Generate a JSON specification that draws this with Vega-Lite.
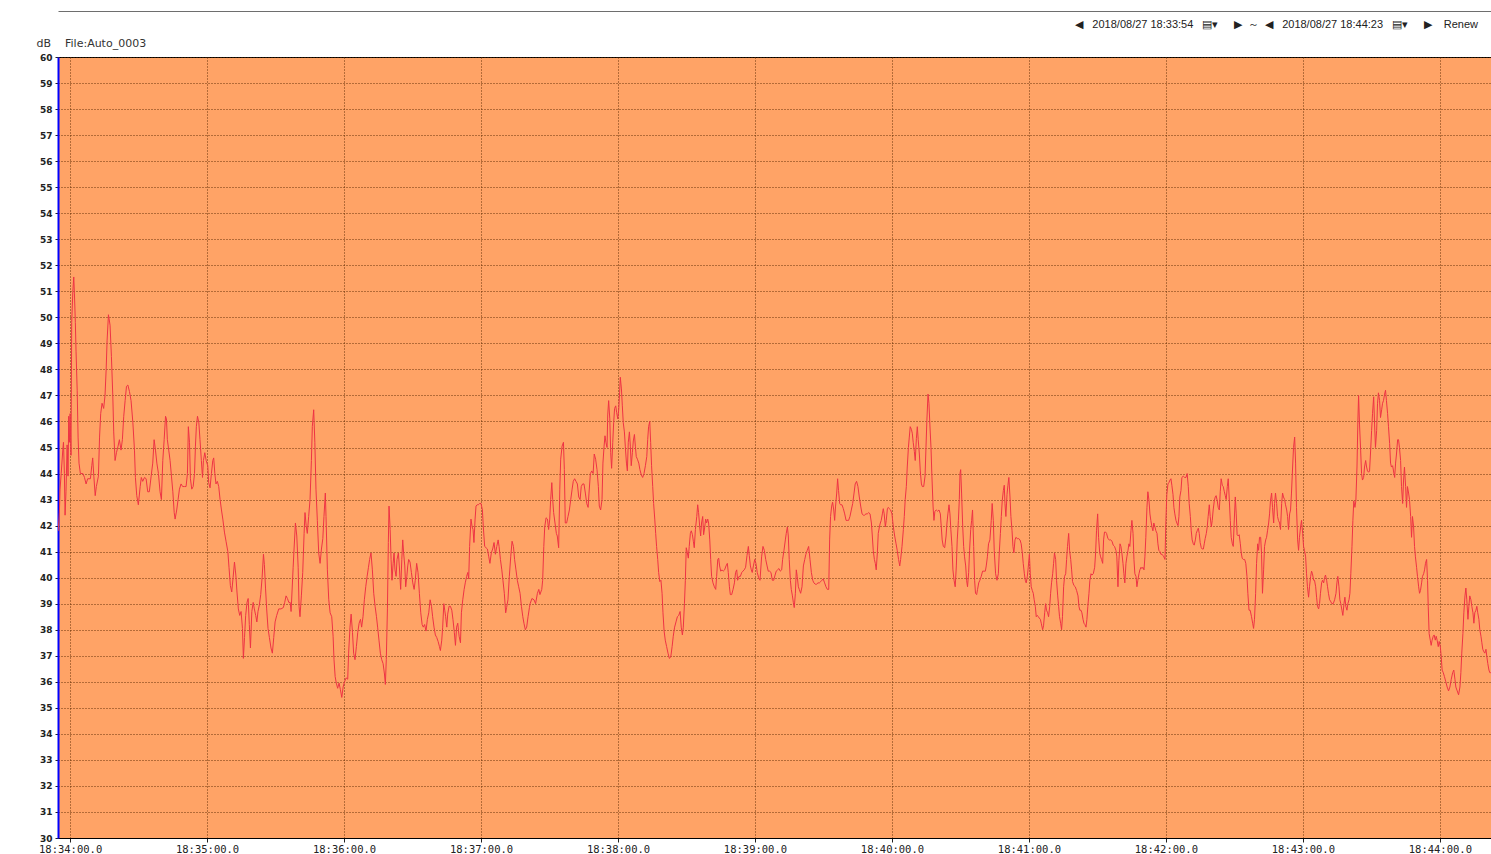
{
"$schema":"https://vega.github.io/schema/vega-lite/v6.json",
"width":1433,"height":781,
"autosize":{"type":"none"},
"padding":{"left":58,"top":57,"right":0,"bottom":16},
"background":"white",
"title":{"text":"◀\u00a0\u00a0\u00a02018/08/27 18:33:54\u00a0\u00a0\u00a0▤▾\u00a0\u00a0\u00a0\u00a0\u00a0▶\u00a0\u00a0～\u00a0\u00a0◀\u00a0\u00a0\u00a02018/08/27 18:44:23\u00a0\u00a0\u00a0▤▾\u00a0\u00a0\u00a0\u00a0\u00a0▶\u00a0\u00a0\u00a0\u00a0Renew","anchor":"end","frame":"group","orient":"top","offset":0,"dx":-13,"dy":19,"font":"Liberation Sans","fontSize":11,"fontWeight":"normal","color":"#222"},
"config":{"view":{"fill":"#FFA366","stroke":"#000000","strokeWidth":1}},
"data":{"values":[
{"t":-5.2,"db":41.8},{"t":-4.7,"db":42.5},{"t":-4.4,"db":43.4},{"t":-3.9,"db":44.0},{"t":-3.2,"db":44.9},{"t":-2.9,"db":45.2},{"t":-2.5,"db":44.0},{"t":-2.2,"db":42.4},{"t":-1.8,"db":43.3},{"t":-1.3,"db":45.1},{"t":-0.9,"db":43.9},{"t":-0.6,"db":46.2},{"t":-0.3,"db":45.2},{"t":0,"db":46.3},{"t":0.4,"db":44.7},{"t":0.7,"db":49.8},{"t":1.2,"db":51.0},{"t":1.6,"db":51.55},{"t":1.9,"db":50.9},{"t":2.3,"db":49.8},{"t":2.6,"db":48.7},{"t":3.1,"db":47.2},{"t":3.5,"db":45.4},{"t":3.9,"db":44.4},{"t":4.5,"db":44.0},{"t":5.6,"db":44.0},{"t":6.3,"db":43.85},{"t":7.0,"db":43.6},{"t":7.7,"db":43.8},{"t":8.9,"db":43.8},{"t":9.5,"db":44.3},{"t":9.9,"db":44.6},{"t":10.4,"db":43.9},{"t":11.0,"db":43.15},{"t":11.5,"db":43.5},{"t":12.4,"db":43.9},{"t":12.9,"db":45.4},{"t":13.4,"db":46.3},{"t":14.0,"db":46.7},{"t":14.7,"db":46.5},{"t":15.3,"db":47.0},{"t":15.8,"db":48.0},{"t":16.2,"db":49.1},{"t":16.8,"db":50.1},{"t":17.5,"db":49.7},{"t":18.1,"db":48.5},{"t":18.7,"db":47.0},{"t":19.1,"db":45.6},{"t":19.7,"db":44.5},{"t":20.3,"db":44.8},{"t":21.0,"db":45.05},{"t":21.6,"db":45.3},{"t":22.3,"db":44.9},{"t":22.9,"db":45.3},{"t":23.5,"db":46.2},{"t":24.1,"db":46.8},{"t":24.7,"db":47.35},{"t":25.3,"db":47.4},{"t":26.0,"db":47.15},{"t":26.7,"db":46.8},{"t":27.5,"db":45.95},{"t":28.2,"db":44.9},{"t":28.6,"db":43.85},{"t":29.2,"db":43.15},{"t":29.9,"db":42.8},{"t":30.7,"db":43.5},{"t":31.2,"db":43.85},{"t":31.8,"db":43.7},{"t":32.6,"db":43.85},{"t":33.3,"db":43.8},{"t":34.0,"db":43.3},{"t":34.7,"db":43.3},{"t":35.5,"db":43.9},{"t":36.2,"db":44.4},{"t":36.8,"db":45.3},{"t":37.4,"db":44.9},{"t":38.0,"db":44.4},{"t":38.7,"db":44.0},{"t":39.4,"db":43.3},{"t":40.0,"db":43.0},{"t":40.6,"db":44.5},{"t":41.2,"db":45.3},{"t":41.8,"db":46.2},{"t":42.2,"db":46.1},{"t":42.6,"db":45.3},{"t":43.2,"db":44.9},{"t":43.8,"db":44.5},{"t":44.4,"db":43.9},{"t":45.0,"db":43.3},{"t":45.6,"db":42.5},{"t":46.0,"db":42.25},{"t":46.7,"db":42.6},{"t":47.3,"db":43.0},{"t":47.9,"db":43.4},{"t":48.6,"db":43.6},{"t":49.3,"db":43.5},{"t":50.1,"db":43.5},{"t":50.8,"db":43.5},{"t":51.4,"db":44.0},{"t":51.8,"db":45.8},{"t":52.3,"db":45.2},{"t":52.7,"db":43.8},{"t":53.3,"db":43.4},{"t":53.9,"db":43.5},{"t":54.5,"db":44.0},{"t":54.9,"db":45.05},{"t":55.3,"db":45.8},{"t":55.8,"db":46.2},{"t":56.4,"db":45.95},{"t":56.9,"db":45.3},{"t":57.5,"db":44.5},{"t":58.0,"db":43.85},{"t":58.4,"db":44.5},{"t":59.0,"db":44.8},{"t":59.6,"db":44.5},{"t":60.3,"db":44.3},{"t":60.7,"db":43.65},{"t":61.3,"db":43.45},{"t":61.9,"db":44.0},{"t":62.5,"db":44.5},{"t":62.9,"db":44.6},{"t":63.4,"db":44.0},{"t":63.9,"db":43.6},{"t":64.5,"db":43.7},{"t":65.1,"db":43.5},{"t":65.7,"db":43.0},{"t":66.3,"db":42.6},{"t":66.9,"db":42.25},{"t":67.6,"db":41.75},{"t":68.3,"db":41.4},{"t":69.1,"db":41.0},{"t":69.6,"db":40.4},{"t":70.2,"db":39.7},{"t":70.8,"db":39.45},{"t":71.4,"db":40.0},{"t":72.0,"db":40.6},{"t":72.6,"db":40.1},{"t":73.1,"db":39.45},{"t":73.7,"db":38.8},{"t":74.3,"db":38.55},{"t":74.9,"db":38.7},{"t":75.5,"db":38.05},{"t":75.9,"db":36.9},{"t":76.4,"db":37.7},{"t":76.9,"db":38.55},{"t":77.5,"db":39.05},{"t":78.0,"db":39.2},{"t":78.5,"db":38.2},{"t":79.0,"db":37.3},{"t":79.6,"db":38.7},{"t":80.2,"db":39.05},{"t":80.7,"db":38.8},{"t":81.3,"db":38.55},{"t":81.8,"db":38.3},{"t":82.3,"db":38.7},{"t":82.9,"db":38.95},{"t":83.5,"db":39.35},{"t":84.1,"db":40.0},{"t":84.7,"db":40.9},{"t":85.1,"db":40.5},{"t":85.6,"db":39.6},{"t":86.1,"db":38.8},{"t":86.7,"db":38.05},{"t":87.3,"db":37.7},{"t":88.0,"db":37.3},{"t":88.6,"db":37.1},{"t":89.2,"db":37.7},{"t":89.8,"db":38.3},{"t":90.5,"db":38.55},{"t":91.4,"db":38.8},{"t":92.4,"db":38.8},{"t":93.4,"db":38.85},{"t":94.0,"db":39.05},{"t":94.6,"db":39.3},{"t":95.2,"db":39.2},{"t":95.8,"db":39.05},{"t":96.4,"db":39.05},{"t":96.8,"db":38.7},{"t":97.2,"db":39.45},{"t":97.7,"db":40.4},{"t":98.1,"db":41.1},{"t":98.7,"db":42.1},
{"t":99.3,"db":41.6},{"t":99.9,"db":40.4},{"t":100.3,"db":38.9},{"t":100.7,"db":38.5},{"t":101.3,"db":39.3},{"t":101.9,"db":40.2},{"t":102.5,"db":41.7},{"t":102.9,"db":42.5},{"t":103.4,"db":42.0},{"t":103.9,"db":41.7},{"t":104.5,"db":42.35},{"t":105.1,"db":43.0},{"t":105.7,"db":44.5},{"t":106.1,"db":45.8},{"t":106.7,"db":46.45},{"t":107.2,"db":45.2},{"t":107.7,"db":43.4},{"t":108.3,"db":42.2},{"t":108.9,"db":40.95},{"t":109.5,"db":40.55},{"t":110.1,"db":41.1},{"t":110.7,"db":41.5},{"t":111.2,"db":42.35},{"t":111.8,"db":43.25},{"t":112.1,"db":42.35},{"t":112.7,"db":40.3},{"t":113.3,"db":39.15},{"t":113.9,"db":38.65},{"t":114.6,"db":38.5},{"t":115.2,"db":37.75},{"t":115.6,"db":36.85},{"t":116.1,"db":36.2},{"t":116.6,"db":35.95},{"t":117.2,"db":35.75},{"t":117.8,"db":35.95},{"t":118.4,"db":35.7},{"t":119.0,"db":35.4},{"t":119.6,"db":35.8},{"t":120.2,"db":36.0},{"t":120.9,"db":36.15},{"t":121.6,"db":36.1},{"t":122.0,"db":37.1},{"t":122.6,"db":38.1},{"t":123.1,"db":38.6},{"t":123.7,"db":37.9},{"t":124.2,"db":37.1},{"t":124.8,"db":36.85},{"t":125.4,"db":37.35},{"t":126.0,"db":37.9},{"t":126.6,"db":38.25},{"t":127.2,"db":38.4},{"t":127.7,"db":38.1},{"t":128.3,"db":38.5},{"t":128.9,"db":39.15},{"t":129.5,"db":39.65},{"t":130.1,"db":40.05},{"t":130.7,"db":40.4},{"t":131.2,"db":40.7},{"t":131.8,"db":40.95},{"t":132.4,"db":40.3},{"t":133.0,"db":39.4},{"t":133.6,"db":38.9},{"t":134.2,"db":38.5},{"t":134.7,"db":38.1},{"t":135.3,"db":37.6},{"t":135.9,"db":37.1},{"t":136.5,"db":36.85},{"t":137.1,"db":36.7},{"t":137.7,"db":36.3},{"t":138.1,"db":35.9},{"t":138.5,"db":36.85},{"t":139.0,"db":38.8},{"t":139.4,"db":41.35},{"t":139.7,"db":42.75},{"t":140.2,"db":41.85},{"t":140.6,"db":40.7},{"t":141.0,"db":39.9},{"t":141.5,"db":40.55},{"t":141.9,"db":40.95},{"t":142.3,"db":40.3},{"t":142.8,"db":40.05},{"t":143.2,"db":40.7},{"t":143.8,"db":40.95},{"t":144.2,"db":40.45},{"t":144.8,"db":39.55},{"t":145.3,"db":40.7},{"t":145.7,"db":41.45},{"t":146.1,"db":40.95},{"t":146.6,"db":40.45},{"t":147.0,"db":39.65},{"t":147.5,"db":40.05},{"t":147.9,"db":40.45},{"t":148.3,"db":40.7},{"t":148.9,"db":40.6},{"t":149.5,"db":40.2},{"t":150.1,"db":39.8},{"t":150.7,"db":39.55},{"t":151.2,"db":39.9},{"t":151.8,"db":40.55},{"t":152.4,"db":40.2},{"t":153.0,"db":39.4},{"t":153.6,"db":38.65},{"t":154.2,"db":38.2},{"t":154.7,"db":38.1},{"t":155.3,"db":38.2},{"t":155.9,"db":37.95},{"t":156.5,"db":38.4},{"t":157.1,"db":38.65},{"t":157.7,"db":39.15},{"t":158.3,"db":38.9},{"t":158.8,"db":38.5},{"t":159.4,"db":38.1},{"t":160.0,"db":37.8},{"t":160.6,"db":37.7},{"t":161.2,"db":37.55},{"t":161.8,"db":37.35},{"t":162.2,"db":37.2},{"t":162.8,"db":37.6},{"t":163.2,"db":38.1},{"t":163.7,"db":39.0},{"t":164.1,"db":38.75},{"t":164.5,"db":38.5},{"t":165.0,"db":38.1},{"t":165.4,"db":38.6},{"t":166.0,"db":38.9},{"t":166.6,"db":38.9},{"t":167.2,"db":38.75},{"t":167.7,"db":38.4},{"t":168.3,"db":37.9},{"t":168.8,"db":37.4},{"t":169.3,"db":38.1},{"t":169.8,"db":38.25},{"t":170.4,"db":37.75},{"t":171.0,"db":37.5},{"t":171.4,"db":38.65},{"t":172.0,"db":39.15},{"t":172.6,"db":39.55},{"t":173.1,"db":39.8},{"t":173.7,"db":40.05},{"t":174.2,"db":40.2},{"t":174.6,"db":39.95},{"t":175.0,"db":41.2},{"t":175.6,"db":42.25},{"t":176.1,"db":41.95},{"t":176.5,"db":41.85},{"t":176.9,"db":41.35},{"t":177.4,"db":42.25},{"t":177.8,"db":42.75},{"t":178.3,"db":42.8},{"t":178.8,"db":42.8},{"t":179.4,"db":42.85},{"t":180.0,"db":42.85},{"t":180.6,"db":42.6},{"t":181.0,"db":41.95},{"t":181.6,"db":41.2},{"t":182.2,"db":41.15},{"t":182.8,"db":41.1},{"t":183.4,"db":40.8},{"t":183.9,"db":40.55},{"t":184.5,"db":40.95},{"t":185.1,"db":41.1},{"t":185.7,"db":41.35},{"t":186.3,"db":40.9},{"t":186.9,"db":41.2},{"t":187.5,"db":41.45},{"t":187.9,"db":41.2},{"t":188.5,"db":40.7},{"t":189.1,"db":40.3},{"t":189.6,"db":39.9},{"t":190.2,"db":39.4},{"t":190.8,"db":38.65},{"t":191.2,"db":38.85},{"t":191.8,"db":39.15},{"t":192.4,"db":40.05},{"t":193.0,"db":40.8},{"t":193.6,"db":41.4},{"t":194.2,"db":41.2},{"t":194.7,"db":40.7},{"t":195.3,"db":40.3},{"t":195.9,"db":39.9},{"t":196.5,"db":39.65},{"t":197.1,"db":39.4},{"t":197.7,"db":38.9},{"t":198.3,"db":38.5},{"t":198.8,"db":38.25},{"t":199.4,"db":38.0},{"t":200.0,"db":38.1},{"t":200.6,"db":38.5},{"t":201.2,"db":38.85},
{"t":201.5,"db":39.0},{"t":202.3,"db":39.2},{"t":203.2,"db":39.15},{"t":203.9,"db":39.0},{"t":204.7,"db":39.4},{"t":205.3,"db":39.55},{"t":205.8,"db":39.35},{"t":206.6,"db":39.55},{"t":207.0,"db":39.9},{"t":207.5,"db":41.2},{"t":207.9,"db":41.95},{"t":208.5,"db":42.3},{"t":209.1,"db":42.25},{"t":209.6,"db":41.85},{"t":210.1,"db":42.25},{"t":210.5,"db":43.0},{"t":211.0,"db":43.65},{"t":211.4,"db":43.0},{"t":211.8,"db":42.5},{"t":212.4,"db":42.1},{"t":213.0,"db":41.7},{"t":213.4,"db":41.6},{"t":214.0,"db":41.15},{"t":214.5,"db":43.4},{"t":214.9,"db":44.55},{"t":215.5,"db":45.05},{"t":216.1,"db":45.2},{"t":216.5,"db":44.15},{"t":216.9,"db":42.1},{"t":217.5,"db":42.1},{"t":218.1,"db":42.35},{"t":218.7,"db":42.6},{"t":219.3,"db":43.0},{"t":219.9,"db":43.4},{"t":220.4,"db":43.7},{"t":221.0,"db":43.8},{"t":221.6,"db":43.7},{"t":222.2,"db":43.6},{"t":222.8,"db":43.1},{"t":223.4,"db":43.0},{"t":223.9,"db":43.5},{"t":224.5,"db":43.6},{"t":225.1,"db":43.6},{"t":225.7,"db":43.25},{"t":226.3,"db":42.85},{"t":226.9,"db":42.7},{"t":227.3,"db":43.25},{"t":227.9,"db":44.0},{"t":228.5,"db":44.1},{"t":229.1,"db":44.0},{"t":229.6,"db":44.75},{"t":230.2,"db":44.55},{"t":230.8,"db":44.15},{"t":231.4,"db":43.5},{"t":231.8,"db":42.75},{"t":232.4,"db":42.6},{"t":233.0,"db":43.0},{"t":233.4,"db":44.4},{"t":233.9,"db":45.05},{"t":234.3,"db":45.45},{"t":234.7,"db":45.2},{"t":235.2,"db":45.0},{"t":235.5,"db":46.25},{"t":235.9,"db":46.8},{"t":236.4,"db":46.1},{"t":236.8,"db":44.8},{"t":237.2,"db":44.2},{"t":237.7,"db":45.2},{"t":238.1,"db":45.95},{"t":238.5,"db":46.5},{"t":239.0,"db":46.6},{"t":239.4,"db":46.35},{"t":239.9,"db":46.1},{"t":240.3,"db":46.45},{"t":240.7,"db":47.1},{"t":241.0,"db":47.7},{"t":241.5,"db":47.25},{"t":241.9,"db":46.6},{"t":242.3,"db":45.95},{"t":242.8,"db":45.6},{"t":243.2,"db":45.05},{"t":243.7,"db":44.4},{"t":244.1,"db":44.1},{"t":244.5,"db":45.2},{"t":245.0,"db":45.6},{"t":245.4,"db":45.05},{"t":245.8,"db":44.3},{"t":246.3,"db":44.8},{"t":246.7,"db":45.25},{"t":247.2,"db":45.5},{"t":247.6,"db":45.05},{"t":248.0,"db":44.65},{"t":248.5,"db":44.55},{"t":249.1,"db":44.4},{"t":249.6,"db":44.15},{"t":250.2,"db":43.95},{"t":250.8,"db":43.85},{"t":251.4,"db":44.0},{"t":252.0,"db":44.3},{"t":252.6,"db":44.65},{"t":253.0,"db":45.3},{"t":253.4,"db":45.8},{"t":253.9,"db":46.0},{"t":254.3,"db":45.2},{"t":254.7,"db":44.3},{"t":255.2,"db":43.5},{"t":255.6,"db":42.85},{"t":256.1,"db":42.25},{"t":256.5,"db":41.7},{"t":256.9,"db":41.2},{"t":257.4,"db":40.7},{"t":257.8,"db":40.2},{"t":258.3,"db":39.85},{"t":258.8,"db":39.9},{"t":259.3,"db":39.4},{"t":259.7,"db":38.65},{"t":260.2,"db":37.95},{"t":260.7,"db":37.6},{"t":261.3,"db":37.35},{"t":261.9,"db":37.1},{"t":262.5,"db":36.9},{"t":263.1,"db":36.95},{"t":263.7,"db":37.35},{"t":264.2,"db":37.75},{"t":264.8,"db":38.1},{"t":265.4,"db":38.3},{"t":266.0,"db":38.5},{"t":266.6,"db":38.55},{"t":267.2,"db":38.7},{"t":267.7,"db":38.1},{"t":268.2,"db":37.8},{"t":268.6,"db":38.1},{"t":269.1,"db":39.0},{"t":269.5,"db":39.9},{"t":269.9,"db":41.15},{"t":270.4,"db":40.95},{"t":270.8,"db":40.75},{"t":271.2,"db":41.2},{"t":271.7,"db":41.7},{"t":272.1,"db":41.8},{"t":272.6,"db":41.65},{"t":273.0,"db":41.4},{"t":273.4,"db":41.15},{"t":273.9,"db":41.85},{"t":274.5,"db":42.35},{"t":274.9,"db":42.8},{"t":275.3,"db":42.5},{"t":275.8,"db":41.95},{"t":276.2,"db":41.6},{"t":276.6,"db":42.1},{"t":277.1,"db":42.35},{"t":277.5,"db":41.65},{"t":278.0,"db":41.95},{"t":278.4,"db":42.25},{"t":278.8,"db":42.1},{"t":279.3,"db":42.25},{"t":279.7,"db":42.1},{"t":280.2,"db":41.45},{"t":280.6,"db":40.7},{"t":281.0,"db":40.05},{"t":281.6,"db":39.8},{"t":282.2,"db":39.65},{"t":282.8,"db":39.55},{"t":283.2,"db":40.05},{"t":283.7,"db":40.7},{"t":284.1,"db":40.75},{"t":284.5,"db":40.45},{"t":285.0,"db":40.25},{"t":285.6,"db":40.3},{"t":286.1,"db":40.25},{"t":286.7,"db":40.3},{"t":287.3,"db":40.45},{"t":287.9,"db":40.55},{"t":288.3,"db":40.2},{"t":288.8,"db":39.65},{"t":289.2,"db":39.35},{"t":289.8,"db":39.35},{"t":290.4,"db":39.55},{"t":291.0,"db":39.8},{"t":291.5,"db":40.2},{"t":292.0,"db":40.3},{"t":292.4,"db":39.9},{"t":293.0,"db":40.05},{"t":293.6,"db":40.05},{"t":294.2,"db":40.2},{"t":294.7,"db":40.25},{"t":295.3,"db":40.3},{"t":295.9,"db":40.4},{"t":296.5,"db":40.85},{"t":297.1,"db":41.2},{"t":297.5,"db":40.85},{"t":298.0,"db":40.45},{"t":298.4,"db":40.3},{"t":298.8,"db":40.2},{"t":299.3,"db":40.45},{"t":299.9,"db":40.7},{"t":300.4,"db":40.55},{"t":301.0,"db":40.2},{"t":301.6,"db":40.0},{"t":302.2,"db":39.9},
{"t":302.9,"db":40.8},{"t":303.5,"db":41.2},{"t":304.1,"db":41.05},{"t":304.7,"db":40.7},{"t":305.3,"db":40.45},{"t":305.8,"db":40.25},{"t":306.4,"db":40.25},{"t":307.0,"db":40.2},{"t":307.6,"db":39.9},{"t":308.2,"db":39.9},{"t":308.8,"db":40.1},{"t":309.3,"db":40.25},{"t":309.9,"db":40.3},{"t":310.5,"db":40.35},{"t":311.1,"db":40.25},{"t":311.7,"db":40.3},{"t":312.1,"db":40.7},{"t":312.7,"db":41.05},{"t":313.3,"db":41.45},{"t":313.7,"db":41.7},{"t":314.2,"db":41.95},{"t":314.6,"db":41.6},{"t":315.0,"db":40.7},{"t":315.5,"db":39.9},{"t":315.9,"db":39.55},{"t":316.4,"db":39.3},{"t":316.8,"db":39.05},{"t":317.2,"db":38.85},{"t":317.7,"db":39.4},{"t":318.1,"db":40.3},{"t":318.5,"db":40.05},{"t":319.0,"db":39.65},{"t":319.4,"db":39.55},{"t":320.0,"db":39.4},{"t":320.6,"db":39.65},{"t":321.2,"db":40.45},{"t":321.8,"db":40.7},{"t":322.3,"db":40.9},{"t":322.9,"db":41.05},{"t":323.5,"db":41.2},{"t":324.1,"db":40.7},{"t":324.7,"db":40.2},{"t":325.3,"db":39.9},{"t":325.8,"db":39.8},{"t":326.4,"db":39.75},{"t":327.0,"db":39.75},{"t":327.6,"db":39.8},{"t":328.2,"db":39.8},{"t":328.8,"db":39.85},{"t":329.3,"db":39.9},{"t":329.9,"db":39.95},{"t":330.5,"db":39.8},{"t":331.1,"db":39.65},{"t":331.7,"db":39.55},{"t":332.3,"db":39.55},{"t":332.7,"db":41.45},{"t":333.1,"db":42.35},{"t":333.6,"db":42.75},{"t":334.0,"db":42.9},{"t":334.5,"db":42.6},{"t":334.9,"db":42.2},{"t":335.3,"db":42.75},{"t":335.8,"db":43.25},{"t":336.2,"db":43.8},{"t":336.6,"db":43.35},{"t":337.1,"db":42.85},{"t":337.5,"db":42.8},{"t":338.1,"db":42.8},{"t":338.7,"db":42.65},{"t":339.3,"db":42.45},{"t":339.9,"db":42.2},{"t":340.4,"db":42.2},{"t":341.0,"db":42.2},{"t":341.6,"db":42.35},{"t":342.2,"db":42.6},{"t":342.8,"db":42.85},{"t":343.4,"db":43.25},{"t":343.9,"db":43.6},{"t":344.5,"db":43.7},{"t":345.1,"db":43.5},{"t":345.7,"db":43.1},{"t":346.3,"db":42.75},{"t":346.9,"db":42.45},{"t":347.5,"db":42.4},{"t":348.0,"db":42.4},{"t":348.6,"db":42.45},{"t":349.2,"db":42.45},{"t":349.8,"db":42.5},{"t":350.4,"db":42.45},{"t":351.0,"db":42.1},{"t":351.4,"db":41.6},{"t":351.8,"db":41.05},{"t":352.3,"db":40.7},{"t":352.7,"db":40.55},{"t":353.1,"db":40.3},{"t":353.6,"db":40.95},{"t":354.0,"db":41.7},{"t":354.5,"db":41.95},{"t":354.9,"db":42.1},{"t":355.3,"db":42.2},{"t":355.8,"db":42.45},{"t":356.2,"db":42.65},{"t":356.6,"db":42.45},{"t":357.1,"db":41.95},{"t":357.5,"db":42.2},{"t":358.0,"db":42.65},{"t":358.4,"db":42.7},{"t":358.8,"db":42.65},{"t":359.4,"db":42.6},{"t":360.0,"db":42.45},{"t":360.6,"db":41.95},{"t":361.2,"db":41.6},{"t":361.8,"db":41.3},{"t":362.3,"db":41.05},{"t":362.9,"db":40.7},{"t":363.4,"db":40.45},{"t":363.8,"db":40.7},{"t":364.4,"db":41.2},{"t":365.0,"db":41.85},{"t":365.4,"db":42.35},{"t":365.8,"db":43.0},{"t":366.3,"db":43.5},{"t":366.7,"db":44.25},{"t":367.2,"db":45.0},{"t":367.6,"db":45.4},{"t":368.0,"db":45.8},{"t":368.5,"db":45.7},{"t":368.9,"db":45.55},{"t":369.3,"db":45.2},{"t":369.8,"db":44.85},{"t":370.2,"db":44.5},{"t":370.7,"db":45.35},{"t":371.1,"db":45.8},{"t":371.5,"db":45.3},{"t":372.0,"db":44.75},{"t":372.4,"db":44.1},{"t":372.9,"db":43.6},{"t":373.3,"db":43.5},{"t":373.9,"db":43.5},{"t":374.5,"db":43.9},{"t":374.9,"db":45.0},{"t":375.3,"db":46.05},{"t":375.8,"db":47.05},{"t":376.2,"db":46.7},{"t":376.6,"db":45.9},{"t":377.1,"db":45.0},{"t":377.5,"db":43.9},{"t":378.0,"db":42.75},{"t":378.4,"db":42.2},{"t":378.8,"db":42.55},{"t":379.4,"db":42.6},{"t":380.0,"db":42.55},{"t":380.6,"db":42.6},{"t":381.2,"db":42.45},{"t":381.6,"db":41.95},{"t":382.0,"db":41.45},{"t":382.5,"db":41.2},{"t":383.1,"db":41.15},{"t":383.7,"db":41.6},{"t":384.1,"db":42.1},{"t":384.5,"db":42.45},{"t":385.0,"db":42.8},{"t":385.4,"db":42.45},{"t":385.8,"db":41.85},{"t":386.3,"db":41.2},{"t":386.7,"db":40.3},{"t":387.2,"db":39.9},{"t":387.7,"db":39.65},{"t":388.2,"db":40.45},{"t":388.6,"db":41.45},{"t":389.1,"db":42.2},{"t":389.5,"db":43.0},{"t":389.8,"db":44.0},{"t":390.1,"db":44.15},{"t":390.5,"db":43.25},{"t":391.0,"db":41.95},{"t":391.4,"db":41.2},{"t":391.8,"db":40.8},{"t":392.3,"db":40.45},{"t":392.7,"db":39.9},{"t":393.1,"db":39.65},{"t":393.6,"db":40.2},{"t":394.0,"db":41.05},{"t":394.5,"db":41.85},{"t":394.9,"db":42.2},{"t":395.3,"db":42.6},{"t":395.8,"db":41.2},{"t":396.2,"db":39.9},{"t":396.6,"db":39.4},{"t":397.1,"db":39.35},{"t":397.5,"db":39.55},{"t":398.0,"db":39.8},{"t":398.5,"db":39.9},{"t":399.1,"db":40.05},{"t":399.7,"db":40.25},{"t":400.3,"db":40.25},{"t":400.9,"db":40.25},{"t":401.3,"db":40.45},{"t":401.8,"db":40.8},{"t":402.3,"db":41.3},{"t":402.9,"db":41.45},
{"t":403.5,"db":42.2},{"t":403.9,"db":42.85},{"t":404.4,"db":42.2},{"t":404.8,"db":41.05},{"t":405.4,"db":40.15},{"t":406.0,"db":39.9},{"t":406.6,"db":40.15},{"t":407.0,"db":40.95},{"t":407.5,"db":41.7},{"t":407.9,"db":42.35},{"t":408.3,"db":42.95},{"t":408.8,"db":43.35},{"t":409.2,"db":43.55},{"t":409.5,"db":42.85},{"t":409.9,"db":42.35},{"t":410.4,"db":43.2},{"t":410.8,"db":43.55},{"t":411.2,"db":43.85},{"t":411.7,"db":43.1},{"t":412.1,"db":42.35},{"t":412.6,"db":41.8},{"t":413.0,"db":41.2},{"t":413.4,"db":40.95},{"t":413.9,"db":41.45},{"t":414.3,"db":41.55},{"t":414.9,"db":41.5},{"t":415.5,"db":41.5},{"t":416.1,"db":41.45},{"t":416.6,"db":41.3},{"t":417.1,"db":40.95},{"t":417.5,"db":40.55},{"t":418.0,"db":40.15},{"t":418.4,"db":39.9},{"t":418.8,"db":39.8},{"t":419.3,"db":40.05},{"t":419.7,"db":40.4},{"t":420.2,"db":40.9},{"t":420.6,"db":40.15},{"t":421.0,"db":39.65},{"t":421.5,"db":39.5},{"t":421.9,"db":39.4},{"t":422.3,"db":39.15},{"t":422.8,"db":38.9},{"t":423.2,"db":38.5},{"t":423.7,"db":38.55},{"t":424.1,"db":38.5},{"t":424.5,"db":38.45},{"t":425.0,"db":38.4},{"t":425.4,"db":38.25},{"t":426.0,"db":38.0},{"t":426.4,"db":38.15},{"t":426.9,"db":38.65},{"t":427.3,"db":39.0},{"t":427.7,"db":38.75},{"t":428.2,"db":38.65},{"t":428.6,"db":38.5},{"t":429.1,"db":38.9},{"t":429.5,"db":39.4},{"t":429.9,"db":39.8},{"t":430.4,"db":40.15},{"t":430.8,"db":40.55},{"t":431.2,"db":40.95},{"t":431.7,"db":40.7},{"t":432.1,"db":39.9},{"t":432.6,"db":39.3},{"t":433.0,"db":38.9},{"t":433.4,"db":38.5},{"t":433.9,"db":38.25},{"t":434.3,"db":38.0},{"t":434.7,"db":38.5},{"t":435.2,"db":39.65},{"t":435.6,"db":40.05},{"t":436.1,"db":40.15},{"t":436.5,"db":40.7},{"t":436.9,"db":41.2},{"t":437.4,"db":41.7},{"t":437.8,"db":41.05},{"t":438.3,"db":40.7},{"t":438.7,"db":40.3},{"t":439.1,"db":39.85},{"t":439.7,"db":39.7},{"t":440.3,"db":39.65},{"t":440.9,"db":39.5},{"t":441.5,"db":39.3},{"t":441.9,"db":38.9},{"t":442.3,"db":38.75},{"t":442.8,"db":38.75},{"t":443.2,"db":38.65},{"t":443.7,"db":38.4},{"t":444.1,"db":38.25},{"t":444.5,"db":38.2},{"t":445.0,"db":38.1},{"t":445.4,"db":38.4},{"t":445.8,"db":38.9},{"t":446.3,"db":39.4},{"t":446.7,"db":39.9},{"t":447.2,"db":40.15},{"t":447.6,"db":40.1},{"t":448.2,"db":40.15},{"t":448.8,"db":40.4},{"t":449.2,"db":40.95},{"t":449.6,"db":41.8},{"t":450.1,"db":42.45},{"t":450.5,"db":41.55},{"t":451.0,"db":40.95},{"t":451.4,"db":40.8},{"t":451.8,"db":40.7},{"t":452.3,"db":40.55},{"t":452.7,"db":41.45},{"t":453.1,"db":41.75},{"t":453.6,"db":41.75},{"t":454.0,"db":41.7},{"t":454.6,"db":41.5},{"t":455.2,"db":41.45},{"t":455.8,"db":41.45},{"t":456.4,"db":41.4},{"t":456.9,"db":41.25},{"t":457.5,"db":41.2},{"t":458.1,"db":41.05},{"t":458.5,"db":40.8},{"t":459.0,"db":39.65},{"t":459.4,"db":40.65},{"t":459.9,"db":41.3},{"t":460.3,"db":41.2},{"t":460.7,"db":40.95},{"t":461.2,"db":40.55},{"t":461.6,"db":40.15},{"t":462.0,"db":39.8},{"t":462.5,"db":40.55},{"t":462.9,"db":40.8},{"t":463.4,"db":41.05},{"t":463.8,"db":41.3},{"t":464.2,"db":41.2},{"t":464.7,"db":41.8},{"t":465.1,"db":42.2},{"t":465.6,"db":41.7},{"t":466.0,"db":40.7},{"t":466.4,"db":40.15},{"t":466.9,"db":40.05},{"t":467.3,"db":39.65},{"t":467.7,"db":39.9},{"t":468.2,"db":40.15},{"t":468.6,"db":40.3},{"t":469.1,"db":40.4},{"t":469.5,"db":40.35},{"t":469.9,"db":40.4},{"t":470.4,"db":40.3},{"t":470.8,"db":40.8},{"t":471.2,"db":41.55},{"t":471.7,"db":42.7},{"t":472.1,"db":43.3},{"t":472.6,"db":42.95},{"t":473.0,"db":42.45},{"t":473.4,"db":42.2},{"t":473.9,"db":41.95},{"t":474.3,"db":41.8},{"t":474.7,"db":42.1},{"t":475.2,"db":41.95},{"t":475.6,"db":41.8},{"t":476.1,"db":41.7},{"t":476.5,"db":41.3},{"t":476.9,"db":41.05},{"t":477.4,"db":41.0},{"t":477.8,"db":40.9},{"t":478.3,"db":40.9},{"t":478.7,"db":40.85},{"t":479.1,"db":40.8},{"t":479.6,"db":40.7},{"t":480.0,"db":42.2},{"t":480.4,"db":43.2},{"t":480.9,"db":43.6},{"t":481.3,"db":43.65},{"t":481.8,"db":43.75},{"t":482.2,"db":43.8},{"t":482.6,"db":43.55},{"t":483.1,"db":43.2},{"t":483.5,"db":42.7},{"t":483.9,"db":42.45},{"t":484.4,"db":42.2},{"t":484.8,"db":42.1},{"t":485.3,"db":42.0},{"t":485.7,"db":42.35},{"t":486.1,"db":43.1},{"t":486.6,"db":43.35},{"t":487.0,"db":43.85},{"t":487.6,"db":43.9},{"t":488.2,"db":43.85},{"t":488.8,"db":43.85},{"t":489.3,"db":44.0},{"t":489.8,"db":43.5},{"t":490.2,"db":42.85},{"t":490.7,"db":42.35},{"t":491.1,"db":41.8},{"t":491.5,"db":41.45},{"t":492.0,"db":41.3},{"t":492.4,"db":41.25},{"t":492.9,"db":41.45},{"t":493.3,"db":41.7},{"t":493.7,"db":41.8},{"t":494.2,"db":41.9},{"t":494.6,"db":41.7},{"t":495.0,"db":41.35},{"t":495.5,"db":41.15},{"t":495.9,"db":41.1},{"t":496.4,"db":41.1},{"t":496.8,"db":41.3},{"t":497.2,"db":41.5},{"t":497.7,"db":41.7},{"t":498.1,"db":41.95},{"t":498.5,"db":42.35},{"t":499.0,"db":42.8},{"t":499.4,"db":42.35},{"t":499.9,"db":41.95},{"t":500.3,"db":42.2},{"t":500.7,"db":42.6},{"t":501.2,"db":42.95},{"t":501.6,"db":43.1},{"t":502.0,"db":43.15},{"t":502.5,"db":42.95},{"t":502.9,"db":42.7},{"t":503.4,"db":42.6},{"t":503.8,"db":43.3},{"t":504.2,"db":43.8},{"t":504.7,"db":43.55},{"t":505.1,"db":43.5},{"t":505.6,"db":43.3},{"t":506.0,"db":43.15},{"t":506.4,"db":43.0},{"t":506.9,"db":43.5},{"t":507.3,"db":43.8},{"t":507.7,"db":43.1},{"t":508.2,"db":42.2},{"t":508.6,"db":41.55},{"t":509.1,"db":41.3},{"t":509.5,"db":41.2},{"t":509.9,"db":42.1},{"t":510.4,"db":43.1},{"t":510.8,"db":42.45},{"t":511.2,"db":41.65},{"t":511.7,"db":41.6},{"t":512.1,"db":41.65},{"t":512.6,"db":41.3},{"t":513.0,"db":40.95},{"t":513.4,"db":40.75},{"t":513.9,"db":40.7},
{"t":514.5,"db":40.7},{"t":515.0,"db":40.55},{"t":515.5,"db":40.05},{"t":515.9,"db":39.4},{"t":516.4,"db":38.75},{"t":516.9,"db":38.75},{"t":517.5,"db":38.5},{"t":518.0,"db":38.25},{"t":518.4,"db":38.05},{"t":518.8,"db":38.4},{"t":519.3,"db":39.4},{"t":519.7,"db":40.55},{"t":520.2,"db":41.3},{"t":520.6,"db":41.05},{"t":521.0,"db":41.55},{"t":521.5,"db":41.55},{"t":521.9,"db":40.9},{"t":522.3,"db":39.4},{"t":522.8,"db":40.3},{"t":523.2,"db":41.2},{"t":523.7,"db":41.45},{"t":524.1,"db":41.55},{"t":524.5,"db":41.8},{"t":525.0,"db":42.1},{"t":525.4,"db":42.45},{"t":525.8,"db":42.95},{"t":526.3,"db":43.25},{"t":526.7,"db":42.7},{"t":527.2,"db":42.1},{"t":527.6,"db":42.85},{"t":528.0,"db":43.25},{"t":528.5,"db":42.85},{"t":528.9,"db":42.35},{"t":529.3,"db":42.2},{"t":529.8,"db":42.1},{"t":530.2,"db":41.85},{"t":530.7,"db":42.85},{"t":531.1,"db":43.25},{"t":531.5,"db":43.1},{"t":532.0,"db":43.0},{"t":532.4,"db":42.8},{"t":532.9,"db":42.6},{"t":533.3,"db":42.35},{"t":533.7,"db":41.85},{"t":534.2,"db":42.45},{"t":534.6,"db":42.6},{"t":535.0,"db":43.25},{"t":535.5,"db":44.25},{"t":535.9,"db":45.0},{"t":536.4,"db":45.4},{"t":536.8,"db":44.4},{"t":537.2,"db":42.7},{"t":537.7,"db":41.45},{"t":538.1,"db":41.05},{"t":538.5,"db":41.55},{"t":539.0,"db":41.95},{"t":539.4,"db":42.2},{"t":539.9,"db":41.7},{"t":540.3,"db":41.2},{"t":540.7,"db":41.05},{"t":541.2,"db":40.8},{"t":541.6,"db":40.15},{"t":542.0,"db":39.65},{"t":542.5,"db":39.25},{"t":542.9,"db":39.65},{"t":543.4,"db":40.05},{"t":543.8,"db":40.25},{"t":544.2,"db":40.15},{"t":544.7,"db":39.9},{"t":545.1,"db":39.9},{"t":545.6,"db":39.65},{"t":546.0,"db":39.25},{"t":546.4,"db":38.9},{"t":546.9,"db":38.8},{"t":547.3,"db":39.0},{"t":547.7,"db":39.4},{"t":548.2,"db":39.8},{"t":548.6,"db":39.9},{"t":549.1,"db":39.8},{"t":549.5,"db":40.0},{"t":549.9,"db":40.1},{"t":550.4,"db":39.9},{"t":550.8,"db":39.65},{"t":551.2,"db":39.4},{"t":551.7,"db":39.15},{"t":552.1,"db":39.1},{"t":552.7,"db":39.0},{"t":553.3,"db":39.0},{"t":553.9,"db":39.15},{"t":554.5,"db":39.4},{"t":554.9,"db":39.8},{"t":555.3,"db":40.05},{"t":555.8,"db":39.65},{"t":556.2,"db":39.15},{"t":556.6,"db":39.0},{"t":557.1,"db":38.75},{"t":557.5,"db":38.55},{"t":558.0,"db":39.0},{"t":558.4,"db":39.25},{"t":558.8,"db":38.9},{"t":559.3,"db":38.75},{"t":559.7,"db":39.0},{"t":560.2,"db":39.15},{"t":560.6,"db":39.4},{"t":561.0,"db":40.15},{"t":561.5,"db":41.2},{"t":561.9,"db":42.2},{"t":562.3,"db":42.95},{"t":562.8,"db":42.7},{"t":563.2,"db":42.95},{"t":563.7,"db":44.25},{"t":564.1,"db":46.05},{"t":564.4,"db":47.0},{"t":564.8,"db":45.9},{"t":565.3,"db":44.9},{"t":565.7,"db":44.0},{"t":566.1,"db":43.75},{"t":566.6,"db":43.85},{"t":567.0,"db":44.25},{"t":567.5,"db":44.5},{"t":567.9,"db":44.25},{"t":568.3,"db":44.1},{"t":568.8,"db":44.05},{"t":569.2,"db":44.1},{"t":569.6,"db":44.75},{"t":570.1,"db":45.65},{"t":570.5,"db":46.3},{"t":571.0,"db":46.95},{"t":571.4,"db":45.9},{"t":571.8,"db":45.0},{"t":572.3,"db":45.65},{"t":572.7,"db":46.7},{"t":573.1,"db":47.1},{"t":573.6,"db":46.8},{"t":574.0,"db":46.15},{"t":574.5,"db":46.45},{"t":574.9,"db":46.7},{"t":575.3,"db":46.8},{"t":575.8,"db":47.05},{"t":576.2,"db":47.2},{"t":576.6,"db":46.8},{"t":577.1,"db":46.3},{"t":577.5,"db":45.8},{"t":578.0,"db":45.15},{"t":578.4,"db":44.4},{"t":578.8,"db":44.25},{"t":579.3,"db":44.3},{"t":579.7,"db":44.1},{"t":580.2,"db":43.85},{"t":580.6,"db":44.4},{"t":581.0,"db":44.75},{"t":581.5,"db":45.3},{"t":581.9,"db":45.3},{"t":582.3,"db":45.0},{"t":582.8,"db":44.5},{"t":583.2,"db":43.5},{"t":583.7,"db":42.85},{"t":584.1,"db":43.75},{"t":584.5,"db":44.25},{"t":585.0,"db":43.5},{"t":585.4,"db":42.7},{"t":585.8,"db":43.5},{"t":586.3,"db":43.25},{"t":586.7,"db":43.0},{"t":587.2,"db":42.35},{"t":587.6,"db":41.55},{"t":588.0,"db":42.35},{"t":588.5,"db":41.95},{"t":588.9,"db":41.2},{"t":589.3,"db":40.8},{"t":589.8,"db":40.4},{"t":590.2,"db":40.05},{"t":590.7,"db":39.65},{"t":591.1,"db":39.4},{"t":591.5,"db":39.5},{"t":592.0,"db":39.8},{"t":592.4,"db":40.05},{"t":592.9,"db":40.15},{"t":593.3,"db":40.3},{"t":593.7,"db":40.55},{"t":594.2,"db":40.7},{"t":594.6,"db":39.9},{"t":594.9,"db":38.9},{"t":595.3,"db":37.85},{"t":595.8,"db":37.6},{"t":596.2,"db":37.4},{"t":596.6,"db":37.6},{"t":597.1,"db":37.75},{"t":597.5,"db":37.8},{"t":598.0,"db":37.6},{"t":598.4,"db":37.75},{"t":598.8,"db":37.6},{"t":599.3,"db":37.35},{"t":599.7,"db":37.55},{"t":600.2,"db":37.35},{"t":600.6,"db":36.95},{"t":601.0,"db":36.45},{"t":601.5,"db":36.35},{"t":602.0,"db":36.2},{"t":602.6,"db":36.0},{"t":603.2,"db":35.8},{"t":603.8,"db":35.65},{"t":604.4,"db":35.8},{"t":605.0,"db":36.1},{"t":605.6,"db":36.35},{"t":606.1,"db":36.45},{"t":606.6,"db":36.1},{"t":607.0,"db":35.8},{"t":607.6,"db":35.65},{"t":608.2,"db":35.5},{"t":608.8,"db":35.8},{"t":609.2,"db":36.35},{"t":609.6,"db":37.1},{"t":610.1,"db":37.85},{"t":610.5,"db":38.65},{"t":611.0,"db":39.3},{"t":611.4,"db":39.6},{"t":611.8,"db":39.15},{"t":612.3,"db":38.4},{"t":612.7,"db":38.9},{"t":613.1,"db":39.3},{"t":613.6,"db":39.15},{"t":614.0,"db":38.9},{"t":614.5,"db":38.65},{"t":614.9,"db":38.25},{"t":615.3,"db":38.65},{"t":615.8,"db":38.75},{"t":616.2,"db":38.9},{"t":616.6,"db":38.65},{"t":617.1,"db":38.4},{"t":617.5,"db":38.0},{"t":618.0,"db":37.75},{"t":618.4,"db":37.5},{"t":618.8,"db":37.25},{"t":619.3,"db":37.15},{"t":619.7,"db":37.1},{"t":620.2,"db":37.25},{"t":620.6,"db":36.95},{"t":621.0,"db":36.7},{"t":621.5,"db":36.45},{"t":621.9,"db":36.35},{"t":622.3,"db":36.35}
]},
"encoding":{
"y":{"field":"db","type":"quantitative","scale":{"domain":[30,60],"nice":false,"zero":false},
"axis":{"values":[30,31,32,33,34,35,36,37,38,39,40,41,42,43,44,45,46,47,48,49,50,51,52,53,54,55,56,57,58,59,60],"title":"dB\u00a0\u00a0\u00a0\u00a0File:Auto_0003","titleAngle":0,"titleAlign":"left","titleX":-22,"titleY":-14,"titleBaseline":"middle","titleFont":"DejaVu Sans","titleFontSize":11,"titleFontWeight":"normal","titleColor":"#333333","grid":true,"gridColor":"#5A2800","gridDash":[1,2],"gridWidth":1,"gridOpacity":0.9,"domainColor":"#0000FF","domainWidth":2,"tickSize":3,"tickColor":"#222222","labelPadding":3,"labelFont":"DejaVu Sans","labelFontWeight":"bold","labelFontSize":9,"labelColor":"#222222","labelOverlap":false,"labelFlush":false}}
},
"resolve":{"axis":{"x":"independent"}},
"layer":[
{"mark":{"type":"line","color":"#EE3344","strokeWidth":1,"clip":true},
"encoding":{
"x":{"field":"t","type":"quantitative","scale":{"domain":[-5.3,622.4],"nice":false,"zero":false},
"axis":{"values":[0,60,120,180,240,300,360,420,480,540,600],"labelExpr":"timeFormat(datetime(2018, 7, 27, 18, 34, datum.value), '%H:%M:%S') + '.0'","title":null,"grid":true,"gridColor":"#5A2800","gridDash":[1,2],"gridWidth":1,"gridOpacity":0.9,"tickSize":4,"tickColor":"#222222","domainColor":"#000000","domainWidth":1,"labelFont":"DejaVu Sans Mono","labelFontSize":10.5,"labelColor":"#222222","labelPadding":2,"labelOverlap":false,"labelFlush":false}}
}},
{"mark":{"type":"line","opacity":0},
"encoding":{
"x":{"field":"t","type":"quantitative","axis":{"orient":"top","offset":46,"domainColor":"#6E6E6E","domainWidth":1,"ticks":false,"labels":false,"grid":false,"title":null}}
}}
]
}
